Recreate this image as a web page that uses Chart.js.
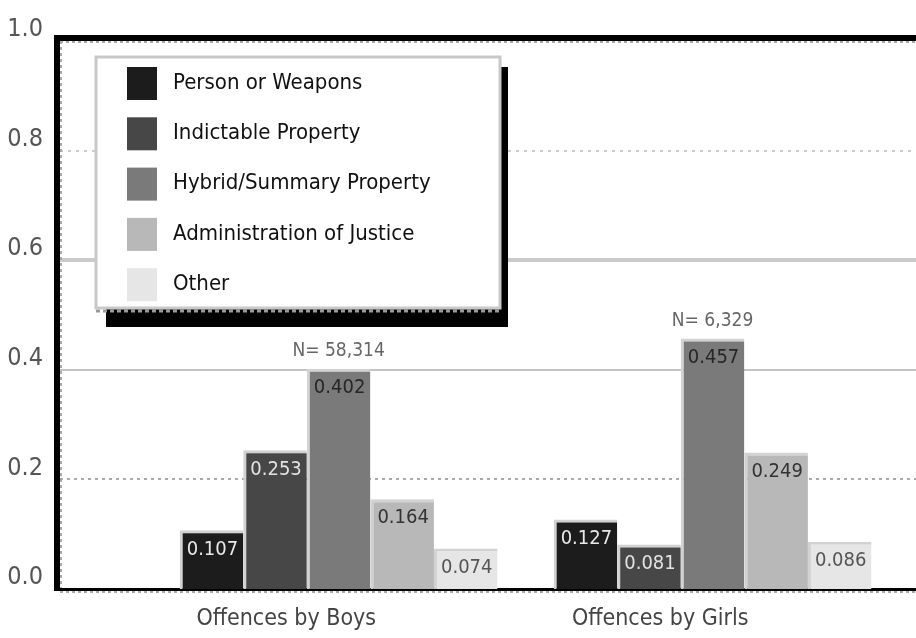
<!DOCTYPE html>
<html>
<head>
<meta charset="utf-8">
<script src="https://cdn.jsdelivr.net/npm/chart.js@4.4.1/dist/chart.umd.min.js"></script>
<style>
  html, body { margin: 0; padding: 0; background: #fff; }
</style>
</head>
<body>
<canvas id="myChart" width="916" height="638"></canvas>
<script>
// share of offences by type, per group
var groups = ['Offences by Boys', 'Offences by Girls'];
var groupSizes = ['N= 58,314', 'N= 6,329'];
var offenceTypes = ['Person or Weapons', 'Indictable Property', 'Hybrid/Summary Property', 'Administration of Justice', 'Other'];
var boysShare = [0.107, 0.253, 0.402, 0.164, 0.074];
var girlsShare = [0.127, 0.081, 0.457, 0.249, 0.086];
var yTicks = [0, 0.2, 0.4, 0.6, 0.8, 1.0];

var FONT = "'Liberation Sans Narrow', 'DejaVu Sans Condensed', 'Liberation Sans', sans-serif";
var fills = ['#1c1c1c', '#474747', '#7a7a7a', '#b8b8b8', '#e6e6e6'];
var labelInk = ['#e8e8e8', '#e2e2e2', '#262626', '#333333', '#555555'];

var datasets = offenceTypes.map(function(name, i) {
    return {
        label: name,
        data: [{x: 0, y: boysShare[i]}, {x: 1, y: girlsShare[i]}],
        backgroundColor: fills[i],
        borderColor: '#d2d2d2',
        borderWidth: {top: 3, left: 3, right: 0, bottom: 0},
        borderSkipped: false,
        categoryPercentage: 0.85,
        barPercentage: 1.0
    };
});

// gridlines: alternating dotted / solid, drawn behind the bars
var gridStyle = {
    '0.2': {color: '#ababab', width: 2, dash: [3, 4]},
    '0.4': {color: '#c4c4c4', width: 2, dash: []},
    '0.6': {color: '#cacaca', width: 4, dash: []},
    '0.8': {color: '#bdbdbd', width: 1.5, dash: [3, 5]}
};

var frame = {
    id: 'frame',
    beforeDatasetsDraw: function(chart) {
        var ctx = chart.ctx, a = chart.chartArea, y = chart.scales.y;
        ctx.save();
        yTicks.forEach(function(v) {
            var s = gridStyle[v.toFixed(1)];
            if (!s) return;
            var py = Math.round(y.getPixelForValue(v));
            ctx.strokeStyle = s.color;
            ctx.lineWidth = s.width;
            ctx.setLineDash(s.dash);
            ctx.beginPath();
            ctx.moveTo(a.left, py);
            ctx.lineTo(a.right, py);
            ctx.stroke();
        });
        ctx.setLineDash([]);
        // heavy top and left edges, light shadow inside
        ctx.fillStyle = '#000';
        ctx.fillRect(a.left - 6, a.top - 6, a.right - a.left + 6, 6);
        ctx.fillRect(a.left - 6, a.top - 6, 6, a.bottom - a.top + 6);
        ctx.strokeStyle = '#a8a8a8';
        ctx.lineWidth = 2;
        ctx.setLineDash([3, 3]);
        ctx.beginPath();
        ctx.moveTo(a.left, a.top + 1);
        ctx.lineTo(a.right, a.top + 1);
        ctx.moveTo(a.left + 1, a.top);
        ctx.lineTo(a.left + 1, a.bottom);
        ctx.moveTo(a.left, a.bottom + 3);
        ctx.lineTo(a.right, a.bottom + 3);
        ctx.stroke();
        ctx.setLineDash([]);
        ctx.fillStyle = '#000';
        ctx.fillRect(a.left - 6, a.bottom - 1, a.right - a.left + 6, 3);
        ctx.restore();
    }
};

var barLabels = {
    id: 'barLabels',
    afterDatasetsDraw: function(chart) {
        var ctx = chart.ctx;
        ctx.save();
        ctx.textAlign = 'center';
        ctx.textBaseline = 'middle';
        ctx.font = '20px ' + FONT;
        chart.data.datasets.forEach(function(ds, i) {
            chart.getDatasetMeta(i).data.forEach(function(bar, j) {
                ctx.fillStyle = labelInk[i];
                ctx.fillText(ds.data[j].y.toFixed(3), bar.x + 1, bar.y + 19);
            });
        });
        // sample size above the tallest bar of each group
        ctx.font = '19px ' + FONT;
        ctx.fillStyle = '#666';
        groups.forEach(function(g, j) {
            var top = Infinity;
            chart.data.datasets.forEach(function(ds, i) {
                top = Math.min(top, chart.getDatasetMeta(i).data[j].y);
            });
            ctx.fillText(groupSizes[j], chart.scales.x.getPixelForValue(j), top - 18);
        });
        ctx.restore();
    }
};

var boxLegend = {
    id: 'boxLegend',
    afterDraw: function(chart) {
        var ctx = chart.ctx, a = chart.chartArea;
        var bx = a.left + 36, by = a.top + 16, bw = 404, bh = 251;
        ctx.save();
        // drop shadow, with a dotted seam under the box
        ctx.fillStyle = '#000';
        ctx.fillRect(bx + 10, by + 10, bw - 2, bh + 9);
        ctx.strokeStyle = '#9a9a9a';
        ctx.lineWidth = 3;
        ctx.setLineDash([4, 3]);
        ctx.beginPath();
        ctx.moveTo(bx, by + bh + 3);
        ctx.lineTo(bx + bw + 2, by + bh + 3);
        ctx.stroke();
        ctx.setLineDash([]);
        ctx.fillStyle = '#fff';
        ctx.fillRect(bx, by, bw, bh);
        ctx.strokeStyle = '#c8c8c8';
        ctx.lineWidth = 3;
        ctx.strokeRect(bx, by, bw, bh);
        ctx.textAlign = 'left';
        ctx.textBaseline = 'middle';
        ctx.font = '22px ' + FONT;
        chart.data.datasets.forEach(function(ds, i) {
            var cy = by + 26 + i * 50.3;
            ctx.fillStyle = ds.backgroundColor;
            ctx.fillRect(bx + 31, cy - 16, 30, 33);
            ctx.fillStyle = '#111';
            ctx.fillText(ds.label, bx + 77, cy);
        });
        ctx.restore();
    }
};

var ctx = document.getElementById('myChart').getContext('2d');
var myChart = new Chart(ctx, {
    type: 'bar',
    data: {datasets: datasets},
    options: {
        responsive: false,
        animation: false,
        layout: {padding: {top: 41, right: 0, left: 0, bottom: 0}},
        plugins: {legend: {display: false}, tooltip: {enabled: false}},
        scales: {
            x: {
                type: 'linear',
                offset: false,
                min: -0.745,
                max: 1.544,
                grid: {display: false},
                border: {display: false},
                afterBuildTicks: function(s) {
                    s.ticks = groups.map(function(g, i) { return {value: i - 0.14}; });
                },
                afterFit: function(s) { s.height = 49; },
                ticks: {
                    callback: function(v, i) { return groups[i]; },
                    font: {family: FONT, size: 23},
                    color: '#444',
                    padding: 8,
                    maxRotation: 0
                }
            },
            y: {
                min: 0,
                max: 1,
                grid: {display: false},
                border: {display: false},
                afterBuildTicks: function(s) {
                    s.ticks = yTicks.map(function(v) { return {value: v}; });
                },
                afterFit: function(s) { s.width = 60; },
                ticks: {
                    callback: function(v) { return [v.toFixed(1), '']; },
                    font: {family: FONT, size: 25, lineHeight: 0.9},
                    color: '#555',
                    padding: 9
                }
            }
        }
    },
    plugins: [frame, barLabels, boxLegend]
});
</script>
</body>
</html>
